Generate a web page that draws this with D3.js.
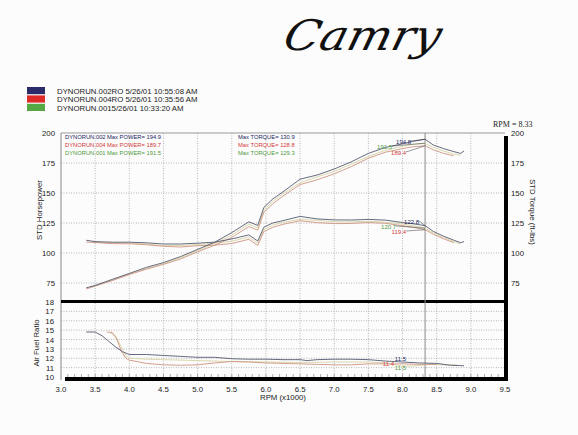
<!DOCTYPE html>
<html>
<head>
<meta charset="utf-8">
<script src="https://cdn.jsdelivr.net/npm/d3@7"></script>
<style>
  body { margin: 0; background: #fcfcfc; }
  text { font-family: "Liberation Sans", Arial, sans-serif; }
</style>
</head>
<body>
<div id="chart"></div>
<script>
// runs shown in the legend
var runNames = ['DYNORUN.002RO  5/26/01 10:55:08 AM', 'DYNORUN.004RO  5/26/01 10:35:56 AM', 'DYNORUN.0015/26/01 10:33:20 AM'];
var runShort = ['DYNORUN.002', 'DYNORUN.004', 'DYNORUN.001'];
var maxPower = ['194.9', '189.7', '191.5'];
var maxTorque = ['130.9', '128.8', '129.3'];

// run 002 (navy)
var rpm002 = [3.37, 3.5, 3.75, 4.0, 4.25, 4.5, 4.75, 5.0, 5.25, 5.5, 5.75, 5.88, 5.97, 6.1, 6.25, 6.5, 6.75, 7.0, 7.25, 7.5, 7.75, 8.0, 8.15, 8.33, 8.45, 8.6, 8.75, 8.85, 8.9];
var power002 = [71, 73, 78, 83, 88, 92, 97, 103, 109, 117, 126, 123, 138, 145, 151, 161.5, 165, 170, 176, 183, 188, 191, 193, 194.8, 190, 187, 184.5, 183, 185];
var torque002 = [110.6, 109.5, 109, 109, 108.5, 107.5, 107.5, 108.2, 109, 111.7, 115.1, 110, 121.5, 125, 127, 130.5, 128.4, 127.6, 127.5, 128, 127.4, 125.4, 124.4, 122.8, 118, 114, 110.7, 108.6, 109.5];

// run 004 (red)
var rpm004 = [3.37, 3.5, 3.75, 4.0, 4.25, 4.5, 4.75, 5.0, 5.25, 5.5, 5.75, 5.88, 5.97, 6.1, 6.25, 6.5, 6.75, 7.0, 7.25, 7.5, 7.75, 8.0, 8.15, 8.33, 8.45, 8.6, 8.75];
var power004 = [70, 72.5, 77, 82, 86.5, 90.5, 95, 101, 106.5, 113, 122, 119, 134, 141, 147.5, 157, 161, 166, 172, 179, 184, 187, 188.5, 189.4, 186, 183, 181];
var torque004 = [109.1, 108.8, 107.8, 107.7, 106.9, 105.6, 105, 106.1, 106.5, 107.9, 111.4, 106.3, 117.9, 121.4, 123.9, 126.9, 125.3, 124.5, 124.6, 125.4, 124.7, 122.8, 121.5, 119.4, 115.6, 111.8, 108.6];

// run 001 (green)
var rpm001 = [3.45, 3.75, 4.0, 4.25, 4.5, 4.75, 5.0, 5.25, 5.5, 5.75, 5.88, 5.97, 6.1, 6.25, 6.5, 6.75, 7.0, 7.25, 7.5, 7.75, 8.0, 8.15, 8.33, 8.45, 8.6, 8.75, 8.85];
var power001 = [71.5, 77.5, 82.5, 87, 91, 96, 102, 108, 115, 124, 121, 136, 143, 149.5, 158.5, 163.5, 168, 174, 180.5, 185.5, 189, 190.5, 191.5, 188, 185, 182.5, 181.5];
var torque001 = [108.8, 108.5, 108.3, 107.5, 106.1, 106.2, 107.1, 108.1, 109.8, 113.3, 108.1, 119.6, 123.1, 125.6, 128.1, 127.2, 126, 126, 126.4, 125.7, 124.1, 122.8, 120.7, 116.8, 113, 109.5, 107.7];

// air fuel ratio
var afrRpm002 = [3.37, 3.5, 3.6, 3.7, 3.8, 3.9, 4.0, 4.25, 4.5, 4.75, 5.0, 5.25, 5.5, 5.75, 6.0, 6.25, 6.5, 6.6, 6.75, 7.0, 7.25, 7.5, 7.75, 8.0, 8.25, 8.5, 8.7, 8.9];
var afr002 = [14.8, 14.8, 14.4, 13.8, 13.2, 12.7, 12.4, 12.4, 12.3, 12.2, 12.1, 12.1, 11.95, 11.9, 11.9, 11.85, 11.85, 11.75, 11.85, 11.9, 11.9, 11.85, 11.7, 11.6, 11.5, 11.45, 11.25, 11.2];
var afrRpm004 = [3.67, 3.75, 3.82, 3.88, 3.95, 4.0, 4.25, 4.5, 4.75, 5.0, 5.25, 5.5, 5.75, 6.0, 6.25, 6.5, 6.75, 7.0, 7.25, 7.5, 7.75, 8.0, 8.25, 8.5];
var afr004 = [14.8, 14.75, 14.0, 12.8, 12.0, 11.8, 11.45, 11.3, 11.25, 11.3, 11.5, 11.65, 11.6, 11.5, 11.45, 11.4, 11.35, 11.3, 11.3, 11.4, 11.4, 11.4, 11.35, 11.35];
var afrRpm001 = [3.72, 3.8, 3.88, 3.95, 4.0, 4.25, 4.5, 4.75, 5.0, 5.25, 5.5, 6.0, 6.5, 7.0, 7.5, 7.75, 8.0, 8.2, 8.4, 8.6, 8.8];
var afr001 = [14.7, 14.4, 13.2, 12.3, 12.0, 11.9, 11.85, 11.8, 11.75, 11.7, 11.65, 11.6, 11.55, 11.6, 11.6, 11.5, 11.15, 11.2, 11.35, 11.3, 11.3];

var cursorRpm = 8.33;
var peakLabels = ['194.8', '189.4', '191.5'];
var cursorTorque = ['122.8', '119.4', '120.7'];
var cursorAfr = ['11.5', '11.4', '11.5'];

var hpTicks = [75, 100, 125, 150, 175, 200];
var afrTicks = [10, 11, 12, 13, 14, 15, 16, 17, 18];
var rpmTicks = [3.0, 3.5, 4.0, 4.5, 5.0, 5.5, 6.0, 6.5, 7.0, 7.5, 8.0, 8.5, 9.0, 9.5];

var width = 578;
var height = 435;

var svg = d3.select('#chart').append('svg')
  .attr('width', width)
  .attr('height', height);

var lineColors = ['#555a72', '#cf9482', '#d6d4a4'];
var swatchColors = ['#2b2a6b', '#e02a2a', '#56a844'];
var textColors = ['#23255f', '#d23a3a', '#4f9a3c'];

var x = d3.scaleLinear().domain([3.0, 9.5]).range([61, 505]);
var yHp = d3.scaleLinear().domain([60, 200]).range([301, 133]);
var yAfr = d3.scaleLinear().domain([10, 18]).range([377, 302]);

// handwritten title
svg.append('text')
  .attr('x', 282).attr('y', 50)
  .attr('transform', 'skewX(-14) translate(12,0)')
  .attr('textLength', 156).attr('lengthAdjust', 'spacingAndGlyphs')
  .style('font-family', '"DejaVu Serif", serif')
  .style('font-style', 'italic')
  .style('font-size', '42px')
  .style('fill', '#111')
  .text('Camry');

// legend
runNames.forEach(function(name, i) {
  svg.append('rect')
    .attr('x', 27).attr('y', 87 + i * 8.4)
    .attr('width', 18).attr('height', 7.2)
    .attr('fill', swatchColors[i]);
  svg.append('text')
    .attr('x', 57).attr('y', 93.5 + i * 8.6)
    .style('font-size', '7.8px').style('fill', '#222')
    .text(name);
});

// grid
var grid = svg.append('g').attr('stroke', '#9a9a9a').attr('stroke-width', 0.7).attr('stroke-dasharray', '1,1.5');
rpmTicks.slice(1, -1).forEach(function(r) {
  grid.append('line').attr('x1', x(r)).attr('x2', x(r)).attr('y1', 133).attr('y2', 377);
});
hpTicks.slice(0, -1).forEach(function(v) {
  grid.append('line').attr('x1', x(3.0)).attr('x2', x(9.5)).attr('y1', yHp(v)).attr('y2', yHp(v));
});
afrTicks.slice(1, -1).forEach(function(v) {
  grid.append('line').attr('x1', x(3.0)).attr('x2', x(9.5)).attr('y1', yAfr(v)).attr('y2', yAfr(v));
});

// minor rpm ticks above the bottom bar
var minor = d3.range(31, 95).map(function(d) { return d / 10; });
svg.append('g').selectAll('line').data(minor).enter().append('line')
  .attr('x1', function(d) { return x(d); }).attr('x2', function(d) { return x(d); })
  .attr('y1', 374).attr('y2', 377)
  .attr('stroke', '#777').attr('stroke-width', 0.6);

// frame
svg.append('line').attr('x1', x(3.0)).attr('x2', x(9.5)).attr('y1', 133).attr('y2', 133).attr('stroke', '#999').attr('stroke-width', 1);
svg.append('line').attr('x1', x(3.0)).attr('x2', x(3.0)).attr('y1', 133).attr('y2', 380).attr('stroke', '#888').attr('stroke-width', 1);
svg.append('rect').attr('x', x(3.0)).attr('y', 300).attr('width', x(9.5) - x(3.0) + 3).attr('height', 3).attr('fill', '#000');
svg.append('rect').attr('x', 65).attr('y', 377).attr('width', x(9.5) - 62).attr('height', 4).attr('fill', '#000');
svg.append('rect').attr('x', x(9.5) - 1).attr('y', 136).attr('width', 4).attr('height', 245).attr('fill', '#000');

// cursor line
svg.append('line')
  .attr('x1', x(cursorRpm)).attr('x2', x(cursorRpm))
  .attr('y1', 133).attr('y2', 377)
  .attr('stroke', '#8a8a8a').attr('stroke-width', 1);

// curves
var zip = function(xs, ys) { return xs.map(function(r, i) { return [r, ys[i]]; }); };
var hpLine = d3.line().x(function(d) { return x(d[0]); }).y(function(d) { return yHp(d[1]); });
var afrLine = d3.line().x(function(d) { return x(d[0]); }).y(function(d) { return yAfr(d[1]); });

var hpSeries = [zip(rpm002, power002), zip(rpm004, power004), zip(rpm001, power001)];
var tqSeries = [zip(rpm002, torque002), zip(rpm004, torque004), zip(rpm001, torque001)];
var afrSeries = [zip(afrRpm002, afr002), zip(afrRpm004, afr004), zip(afrRpm001, afr001)];

[2, 1, 0].forEach(function(i) {
  [hpSeries[i], tqSeries[i]].forEach(function(s) {
    svg.append('path').attr('d', hpLine(s)).attr('fill', 'none')
      .attr('stroke', lineColors[i]).attr('stroke-width', 0.9);
  });
  svg.append('path').attr('d', afrLine(afrSeries[i])).attr('fill', 'none')
    .attr('stroke', lineColors[i]).attr('stroke-width', 0.9);
});

// in-plot run info
runShort.forEach(function(n, i) {
  var yy = 138.5 + i * 8.4;
  svg.append('text').attr('x', 65).attr('y', yy).style('font-size', '5.8px').style('fill', textColors[i]).text(n);
  svg.append('text').attr('x', 107).attr('y', yy).style('font-size', '5.8px').style('fill', textColors[i]).text('Max POWER= ' + maxPower[i]);
  svg.append('text').attr('x', 238).attr('y', yy).style('font-size', '5.8px').style('fill', textColors[i]).text('Max TORQUE= ' + maxTorque[i]);
});

// cursor value labels
var cx = x(cursorRpm);
var peakOff = [[-14, 144], [-19, 155], [-33, 149]];
var tqOff = [[-6, 224], [-19, 234], [-29, 229]];
var afrOff = [[-19, 361], [-31, 366], [-19, 370]];
[0, 1, 2].forEach(function(i) {
  var hp = hpSeries[i].find(function(d) { return d[0] === cursorRpm; });
  var tq = tqSeries[i].find(function(d) { return d[0] === cursorRpm; });
  svg.append('line').attr('x1', cx + peakOff[i][0]).attr('y1', peakOff[i][1] - 3)
    .attr('x2', cx).attr('y2', yHp(hp[1])).attr('stroke', '#333').attr('stroke-width', 0.5);
  svg.append('text').attr('x', cx + peakOff[i][0]).attr('y', peakOff[i][1])
    .attr('text-anchor', 'end').style('font-size', '6px').style('fill', textColors[i]).text(peakLabels[i]);
  svg.append('line').attr('x1', cx + tqOff[i][0]).attr('y1', tqOff[i][1] - 3)
    .attr('x2', cx).attr('y2', yHp(tq[1])).attr('stroke', '#333').attr('stroke-width', 0.5);
  svg.append('text').attr('x', cx + tqOff[i][0]).attr('y', tqOff[i][1])
    .attr('text-anchor', 'end').style('font-size', '6px').style('fill', textColors[i]).text(cursorTorque[i]);
  svg.append('text').attr('x', cx + afrOff[i][0]).attr('y', afrOff[i][1])
    .attr('text-anchor', 'end').style('font-size', '6px').style('fill', textColors[i]).text(cursorAfr[i]);
});

// axes labels
var labelStyle = function(sel) { return sel.style('font-size', '7.8px').style('fill', '#222'); };
hpTicks.forEach(function(v) {
  labelStyle(svg.append('text').attr('x', 55).attr('y', yHp(v) + 3).attr('text-anchor', 'end').text(v));
  labelStyle(svg.append('text').attr('x', 511).attr('y', yHp(v) + 3).text(v));
});
afrTicks.forEach(function(v) {
  labelStyle(svg.append('text').attr('x', 54).attr('y', yAfr(v) + 3).attr('text-anchor', 'end').text(v));
});
rpmTicks.forEach(function(r) {
  labelStyle(svg.append('text').attr('x', x(r)).attr('y', 391.5).attr('text-anchor', 'middle').text(r.toFixed(1)));
});
labelStyle(svg.append('text').attr('x', 283).attr('y', 400).attr('text-anchor', 'middle').text('RPM (x1000)'));
labelStyle(svg.append('text').attr('transform', 'translate(42,210) rotate(-90)').attr('text-anchor', 'middle').text('STD Horsepower'));
labelStyle(svg.append('text').attr('transform', 'translate(39,343) rotate(-90)').attr('text-anchor', 'middle').text('Air Fuel Ratio'));
labelStyle(svg.append('text').attr('transform', 'translate(530,212) rotate(90)').attr('text-anchor', 'middle').text('STD Torque (ft-lbs)'));

svg.append('text').attr('x', 493).attr('y', 127)
  .style('font-family', '"Liberation Serif", serif').style('font-size', '8px').style('fill', '#222')
  .text('RPM = ' + cursorRpm);
</script>
</body>
</html>
